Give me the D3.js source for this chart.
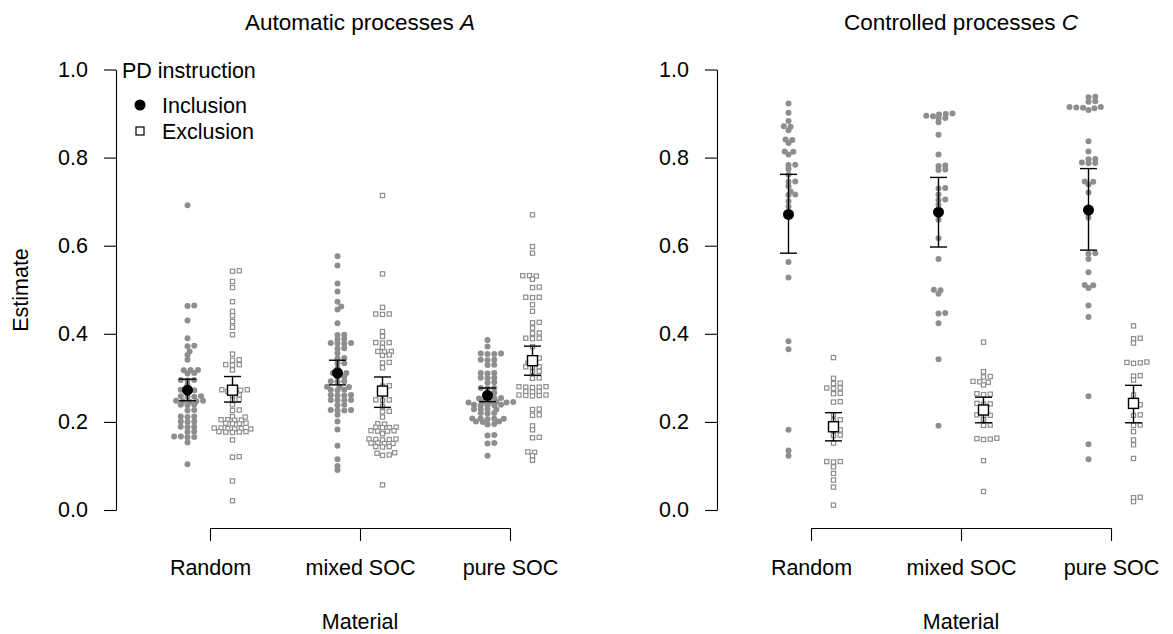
<!DOCTYPE html>
<html>
<head>
<meta charset="utf-8">
<script src="https://cdnjs.cloudflare.com/ajax/libs/d3/7.8.5/d3.min.js"></script>
<style>
    body { margin: 0; background: #fff; }
    svg text { font-family: "Liberation Sans", Arial, Helvetica, sans-serif; fill: #000; }
</style>
</head>
<body>
<div id="chart"></div>
<script>
var materials = ["Random", "mixed SOC", "pure SOC"];
var instructions = ["Inclusion", "Exclusion"];
var yTicks = [0, 0.2, 0.4, 0.6, 0.8, 1.0];

// Automatic processes A -- individual estimates
var autoInclRandom = [0.692, 0.464, 0.463, 0.430, 0.390, 0.373, 0.372, 0.360, 0.352, 0.341, 0.318, 0.318, 0.317, 0.311, 0.310,
    0.295, 0.295, 0.294, 0.284, 0.273, 0.272, 0.272, 0.258, 0.258, 0.257, 0.257, 0.248, 0.248, 0.247, 0.247, 0.246, 0.239,
    0.239, 0.238, 0.227, 0.226, 0.212, 0.212, 0.211, 0.201, 0.201, 0.200, 0.189, 0.189, 0.188, 0.178, 0.177, 0.167, 0.167,
    0.166, 0.165, 0.153, 0.104];
var autoExclRandom = [0.543, 0.542, 0.519, 0.505, 0.473, 0.451, 0.441, 0.428, 0.415, 0.398, 0.354, 0.341, 0.340, 0.330, 0.330,
    0.329, 0.318, 0.273, 0.273, 0.272, 0.269, 0.268, 0.261, 0.260, 0.251, 0.250, 0.239, 0.227, 0.226, 0.212, 0.211, 0.205,
    0.205, 0.204, 0.204, 0.197, 0.197, 0.196, 0.196, 0.186, 0.186, 0.185, 0.185, 0.184, 0.184, 0.178, 0.178, 0.177, 0.177,
    0.176, 0.159, 0.121, 0.120, 0.066, 0.021];
var autoInclMixed = [0.576, 0.555, 0.514, 0.496, 0.473, 0.462, 0.455, 0.424, 0.398, 0.397, 0.388, 0.387, 0.379, 0.379, 0.378,
    0.378, 0.367, 0.366, 0.356, 0.345, 0.344, 0.333, 0.333, 0.322, 0.311, 0.311, 0.310, 0.303, 0.302, 0.292, 0.292, 0.291,
    0.280, 0.280, 0.279, 0.273, 0.273, 0.272, 0.261, 0.261, 0.260, 0.260, 0.250, 0.250, 0.249, 0.249, 0.239, 0.238, 0.227,
    0.227, 0.226, 0.226, 0.216, 0.201, 0.183, 0.146, 0.115, 0.100, 0.091];
var autoExclMixed = [0.714, 0.536, 0.460, 0.445, 0.445, 0.444, 0.405, 0.394, 0.380, 0.380, 0.379, 0.369, 0.360, 0.360, 0.359,
    0.352, 0.351, 0.335, 0.334, 0.323, 0.282, 0.281, 0.250, 0.250, 0.249, 0.235, 0.224, 0.223, 0.211, 0.196, 0.195, 0.188,
    0.188, 0.187, 0.187, 0.180, 0.180, 0.179, 0.179, 0.173, 0.161, 0.161, 0.160, 0.160, 0.159, 0.152, 0.152, 0.151, 0.151,
    0.144, 0.144, 0.143, 0.130, 0.129, 0.125, 0.124, 0.057];
var autoInclPure = [0.386, 0.371, 0.355, 0.355, 0.354, 0.354, 0.341, 0.341, 0.340, 0.330, 0.329, 0.311, 0.311, 0.310, 0.300,
    0.300, 0.299, 0.290, 0.289, 0.277, 0.277, 0.276, 0.266, 0.265, 0.254, 0.254, 0.253, 0.253, 0.246, 0.246, 0.245, 0.245,
    0.244, 0.244, 0.239, 0.239, 0.238, 0.238, 0.237, 0.229, 0.229, 0.228, 0.228, 0.220, 0.220, 0.219, 0.208, 0.208, 0.207,
    0.207, 0.206, 0.201, 0.201, 0.200, 0.195, 0.194, 0.170, 0.169, 0.152, 0.151, 0.123];
var autoExclPure = [0.670, 0.598, 0.583, 0.532, 0.532, 0.531, 0.524, 0.506, 0.505, 0.483, 0.483, 0.482, 0.466, 0.451, 0.426,
    0.425, 0.413, 0.402, 0.401, 0.390, 0.390, 0.389, 0.371, 0.345, 0.344, 0.333, 0.332, 0.325, 0.325, 0.324, 0.315, 0.314,
    0.300, 0.299, 0.280, 0.280, 0.279, 0.279, 0.278, 0.269, 0.269, 0.268, 0.261, 0.261, 0.260, 0.260, 0.259, 0.229, 0.228,
    0.216, 0.215, 0.191, 0.182, 0.165, 0.164, 0.132, 0.131, 0.123, 0.113];

// Controlled processes C -- individual estimates
var ctrlInclRandom = [0.923, 0.902, 0.883, 0.871, 0.870, 0.862, 0.841, 0.840, 0.833, 0.814, 0.813, 0.807, 0.784, 0.783, 0.774,
    0.761, 0.746, 0.745, 0.735, 0.723, 0.716, 0.715, 0.701, 0.689, 0.670, 0.563, 0.528, 0.383, 0.365, 0.182, 0.135, 0.123];
var ctrlExclRandom = [0.346, 0.299, 0.288, 0.287, 0.277, 0.277, 0.276, 0.265, 0.264, 0.246, 0.245, 0.216, 0.205, 0.204, 0.189,
    0.182, 0.181, 0.170, 0.169, 0.152, 0.110, 0.110, 0.109, 0.098, 0.083, 0.068, 0.052, 0.011];
var ctrlInclMixed = [0.900, 0.899, 0.898, 0.895, 0.894, 0.890, 0.889, 0.880, 0.852, 0.807, 0.782, 0.781, 0.773, 0.772, 0.731,
    0.730, 0.716, 0.705, 0.704, 0.693, 0.672, 0.659, 0.617, 0.570, 0.500, 0.499, 0.491, 0.447, 0.446, 0.424, 0.342, 0.191];
var ctrlExclMixed = [0.381, 0.314, 0.303, 0.302, 0.292, 0.291, 0.290, 0.284, 0.264, 0.263, 0.262, 0.242, 0.241, 0.240, 0.227,
    0.216, 0.215, 0.214, 0.205, 0.193, 0.192, 0.163, 0.162, 0.161, 0.160, 0.112, 0.042];
var ctrlInclPure = [0.938, 0.937, 0.928, 0.927, 0.915, 0.915, 0.914, 0.913, 0.912, 0.908, 0.837, 0.814, 0.797, 0.796, 0.789,
    0.788, 0.787, 0.746, 0.745, 0.739, 0.721, 0.664, 0.583, 0.582, 0.570, 0.540, 0.511, 0.510, 0.504, 0.464, 0.438, 0.258,
    0.149, 0.115];
var ctrlExclPure = [0.418, 0.390, 0.389, 0.379, 0.336, 0.335, 0.334, 0.333, 0.305, 0.304, 0.295, 0.261, 0.246, 0.239, 0.238,
    0.216, 0.215, 0.193, 0.192, 0.178, 0.159, 0.148, 0.117, 0.029, 0.028, 0.019];

// group estimates with 95% CI (Random, mixed SOC, pure SOC)
var autoInclMean = [0.272, 0.311, 0.260];
var autoInclLower = [0.248, 0.284, 0.246];
var autoInclUpper = [0.297, 0.340, 0.277];
var autoExclMean = [0.272, 0.270, 0.339];
var autoExclLower = [0.245, 0.233, 0.306];
var autoExclUpper = [0.303, 0.302, 0.372];
var ctrlInclMean = [0.671, 0.676, 0.681];
var ctrlInclLower = [0.583, 0.597, 0.590];
var ctrlInclUpper = [0.762, 0.755, 0.775];
var ctrlExclMean = [0.189, 0.227, 0.242];
var ctrlExclLower = [0.157, 0.198, 0.198];
var ctrlExclUpper = [0.221, 0.256, 0.283];

var grey = "#8e8e8e";
var labelSize = "21.5px";

var svg = d3.select("#chart").append("svg")
    .attr("width", 1173)
    .attr("height", 634);

SwarmPanel = function(_offset, _title, _letter, _incl, _excl, _inclCI, _exclCI, _showY){
    this.offset = _offset;
    this.title = _title;
    this.letter = _letter;
    this.incl = _incl;
    this.excl = _excl;
    this.inclCI = _inclCI;
    this.exclCI = _exclCI;
    this.showY = _showY;

    this.initVis();
};

SwarmPanel.prototype.initVis = function(){
    var vis = this;

    vis.g = svg.append("g")
        .attr("transform", "translate(" + vis.offset + ",0)");

    vis.y = d3.scaleLinear().domain([0, 1]).range([510, 69.5]);
    vis.x = d3.scalePoint().domain(materials).range([210, 510]);
    vis.shift = 22.5;
    // swarm spacing, wider across than along the value axis
    vis.sx = 6.8;
    vis.sy = 3.7;

    var yAxis = d3.axisLeft(vis.y)
        .tickValues(yTicks)
        .tickFormat(d3.format(".1f"))
        .tickSize(12)
        .tickSizeOuter(0)
        .tickPadding(16);
    vis.g.append("g")
        .attr("class", "y-axis")
        .attr("transform", "translate(116,0)")
        .call(yAxis);

    var xAxis = d3.axisBottom(vis.x)
        .tickSize(13)
        .tickSizeOuter(0)
        .tickPadding(19);
    vis.g.append("g")
        .attr("class", "x-axis")
        .attr("transform", "translate(0,528)")
        .call(xAxis);

    vis.g.selectAll(".tick text").attr("font-size", labelSize).attr("font-family", null);
    vis.g.selectAll(".domain, .tick line").attr("stroke", "#000").attr("stroke-width", 1.1);

    var t = vis.g.append("text")
        .attr("x", 360)
        .attr("y", 30)
        .attr("text-anchor", "middle")
        .attr("font-size", "22.5px")
        .text(vis.title + " ");
    t.append("tspan").attr("font-style", "italic").text(vis.letter);

    vis.g.append("text")
        .attr("x", 360)
        .attr("y", 629)
        .attr("text-anchor", "middle")
        .attr("font-size", labelSize)
        .text("Material");

    if (vis.showY) {
        vis.g.append("text")
            .attr("transform", "translate(28,290) rotate(-90)")
            .attr("text-anchor", "middle")
            .attr("font-size", labelSize)
            .text("Estimate");
        vis.addLegend();
    }

    vis.updateVis();
};

// simple swarm layout: each point takes the free offset closest to the centre
SwarmPanel.prototype.swarm = function(values){
    var vis = this;
    var sx = vis.sx, sy = vis.sy;
    var pts = values.map(function(v){ return { v: v, py: vis.y(v) }; });
    var order = pts.slice().sort(function(a, b){ return a.v - b.v; });
    var placed = [];
    order.forEach(function(p){
        var cands = [0];
        placed.forEach(function(q){
            var dy = Math.abs(p.py - q.py) / sy;
            if (dy < 1) {
                var dx = sx * Math.sqrt(1 - dy * dy);
                cands.push(q.dx + dx, q.dx - dx);
            }
        });
        cands.sort(function(a, b){ return Math.abs(a) - Math.abs(b); });
        p.dx = cands.find(function(c){
            return placed.every(function(q){
                var ddx = (c - q.dx) / sx, ddy = (p.py - q.py) / sy;
                return ddx * ddx + ddy * ddy >= 0.999;
            });
        });
        placed.push(p);
    });
    return pts;
};

SwarmPanel.prototype.updateVis = function(){
    var vis = this;

    materials.forEach(function(m, i){
        var cx = vis.x(m);

        var inclPts = vis.swarm(vis.incl[i]);
        vis.g.append("g").selectAll("circle")
            .data(inclPts)
            .enter().append("circle")
            .attr("cx", function(d){ return cx - vis.shift + d.dx; })
            .attr("cy", function(d){ return d.py; })
            .attr("r", 3)
            .attr("fill", grey);

        var exclPts = vis.swarm(vis.excl[i]);
        vis.g.append("g").selectAll("rect")
            .data(exclPts)
            .enter().append("rect")
            .attr("x", function(d){ return cx + vis.shift + d.dx - 2.1; })
            .attr("y", function(d){ return d.py - 2.1; })
            .attr("width", 4.2)
            .attr("height", 4.2)
            .attr("fill", "#fff")
            .attr("stroke", grey)
            .attr("stroke-width", 1.2);
    });

    var groups = [
        { ci: vis.inclCI, dir: -1, shape: "circle" },
        { ci: vis.exclCI, dir: 1, shape: "square" }
    ];

    groups.forEach(function(gr){
        materials.forEach(function(m, i){
            var cx = vis.x(m) + gr.dir * vis.shift;
            var lo = vis.y(gr.ci.lower[i]), hi = vis.y(gr.ci.upper[i]), mid = vis.y(gr.ci.mean[i]);
            var eb = vis.g.append("g").attr("stroke", "#000").attr("stroke-width", 1.4);
            eb.append("line").attr("x1", cx).attr("x2", cx).attr("y1", lo).attr("y2", hi);
            eb.append("line").attr("x1", cx - 8.5).attr("x2", cx + 8.5).attr("y1", lo).attr("y2", lo);
            eb.append("line").attr("x1", cx - 8.5).attr("x2", cx + 8.5).attr("y1", hi).attr("y2", hi);
            if (gr.shape == "circle") {
                vis.g.append("circle")
                    .attr("cx", cx).attr("cy", mid).attr("r", 5.5)
                    .attr("fill", "#000");
            } else {
                vis.g.append("rect")
                    .attr("x", cx - 5).attr("y", mid - 5)
                    .attr("width", 10).attr("height", 10)
                    .attr("fill", "#fff").attr("stroke", "#000").attr("stroke-width", 1.4);
            }
        });
    });
};

SwarmPanel.prototype.addLegend = function(){
    var vis = this;

    var legend = vis.g.append("g").attr("class", "legend");

    legend.append("text")
        .attr("x", 122)
        .attr("y", 77.5)
        .attr("font-size", labelSize)
        .text("PD instruction");

    var legendRow = legend.selectAll(".legendRow")
        .data(instructions)
        .enter().append("g")
        .attr("class", "legendRow")
        .attr("transform", function(d, i){ return "translate(140," + (105 + i * 26) + ")"; });

    legendRow.filter(function(d, i){ return i == 0; })
        .append("circle").attr("r", 5.5).attr("fill", "#000");
    legendRow.filter(function(d, i){ return i == 1; })
        .append("rect").attr("x", -4).attr("y", -4).attr("width", 8).attr("height", 8)
        .attr("fill", "#fff").attr("stroke", "#000").attr("stroke-width", 1.2);

    legendRow.append("text")
        .attr("x", 22)
        .attr("y", 7.5)
        .attr("font-size", labelSize)
        .text(function(d){ return d; });
};

new SwarmPanel(0, "Automatic processes", "A",
    [autoInclRandom, autoInclMixed, autoInclPure],
    [autoExclRandom, autoExclMixed, autoExclPure],
    { mean: autoInclMean, lower: autoInclLower, upper: autoInclUpper },
    { mean: autoExclMean, lower: autoExclLower, upper: autoExclUpper },
    true);

new SwarmPanel(601, "Controlled processes", "C",
    [ctrlInclRandom, ctrlInclMixed, ctrlInclPure],
    [ctrlExclRandom, ctrlExclMixed, ctrlExclPure],
    { mean: ctrlInclMean, lower: ctrlInclLower, upper: ctrlInclUpper },
    { mean: ctrlExclMean, lower: ctrlExclLower, upper: ctrlExclUpper },
    false);
</script>
</body>
</html>
